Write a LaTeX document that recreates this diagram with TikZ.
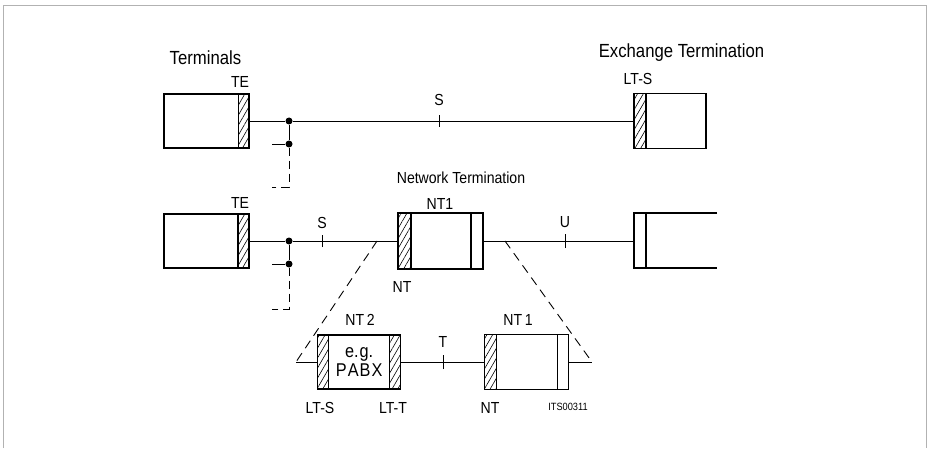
\documentclass[tikz,border=0pt]{standalone}
\usepackage{fontspec}
\setmainfont[FakeStretch=0.88]{Liberation Sans}
\usepackage{tikz}
\usetikzlibrary{patterns.meta,positioning,calc}
\tikzset{
  unit/.style={rectangle, draw=black, line width=1.3pt, inner sep=0pt,
               minimum height=54pt},
  hatch/.style={rectangle, draw=black, line width=1.3pt, inner sep=0pt,
                pattern={Lines[angle=60,distance=5pt,line width=0.6pt]}},
  plain/.style={rectangle, draw=black, line width=1.3pt, inner sep=0pt, fill=white},
  dot/.style={circle, fill=black, inner sep=0pt, minimum size=7pt},
  wire/.style={line width=0.9pt},
  zoomline/.style={line width=0.9pt, dash pattern=on 9pt off 6pt},
  busend/.style={line width=0.9pt, dash pattern=on 8pt off 5pt},
  lbl/.style={font=\fontsize{16}{18}\selectfont, inner sep=1pt},
  biglbl/.style={font=\fontsize{19}{21}\selectfont, inner sep=1pt}
}
\begin{document}
\begin{tikzpicture}[x=1pt,y=1pt]
  \useasboundingbox (0,0) rectangle (929,448);
  % --- scan frame ---
  \draw[gray!60, line width=0.8pt] (3,0) -- (3,443) -- (926,443) -- (926,0);

  % --- first row: TE -- S -- exchange ---
  \node[unit, minimum width=85pt] (te1) at (206.5,327) {};
  \node[hatch, minimum width=11pt, minimum height=54pt, anchor=east] (te1h) at (te1.east) {};
  \node[unit, minimum width=72pt, minimum height=55pt] (lts) at (670,327) {};
  \node[hatch, minimum width=12pt, minimum height=55pt, anchor=west] (ltsh) at (lts.west) {};
  \node[dot] (j1) at (289,327) {};
  \node[dot] (j2) at (289,304) {};
  \coordinate (b1) at (272,304);
  \coordinate (d1) at (289,261);
  \coordinate (e1) at (272,261);
  \coordinate (s1) at (439,327);
  \draw[wire] (te1.east) -- (j1) -- (lts.west);
  \draw[wire] (j1) -- (j2) -- (b1);
  \draw[busend] (j2) -- (d1) -- (e1);
  \draw[wire] ($(s1)+(0,-6)$) -- ($(s1)+(0,6)$);

  \node[biglbl] (term) at (205.5,390) {Terminals};
  \node[lbl] (te1l) at (240,366) {TE};
  \node[lbl] (s1l) at (439,348) {S};
  \node[biglbl] (exch) at (681.5,395) {Exchange Termination};
  \node[lbl] (ltsl) at (638,369) {LT-S};

  % --- second row: TE -- S -- NT1 -- U -- exchange ---
  \node[unit, minimum width=85pt] (te2) at (206.5,207) {};
  \node[hatch, minimum width=11pt, minimum height=54pt, anchor=east] (te2h) at (te2.east) {};
  \node[unit, minimum width=85pt, minimum height=56pt] (nt1) at (440.5,207) {};
  \node[hatch, minimum width=13pt, minimum height=56pt, anchor=west] (nt1h) at (nt1.west) {};
  \node[plain, minimum width=12pt, minimum height=56pt, anchor=east] (nt1r) at (nt1.east) {};
  \node[dot] (j3) at (289,207) {};
  \node[dot] (j4) at (289,184) {};
  \coordinate (b2) at (272,184);
  \coordinate (d2) at (289,139);
  \coordinate (e2) at (272,139);
  \coordinate (s2) at (322,207);
  \coordinate (u1) at (565,207);
  \coordinate (ue) at (634,207);
  \draw[wire] (te2.east) -- (j3) -- (nt1.west);
  \draw[wire] (j3) -- (j4) -- (b2);
  \draw[busend] (j4) -- (d2) -- (e2);
  \draw[wire] (nt1.east) -- (ue);
  \draw[wire] ($(s2)+(0,-6)$) -- ($(s2)+(0,6)$);
  \draw[wire] ($(u1)+(0,-7)$) -- ($(u1)+(0,7)$);
  % exchange side, open to the right
  \draw[line width=1.3pt] (717,235) -- (634,235) -- (634,180) -- (717,180);
  \draw[line width=1.3pt] (646,235) -- (646,180);

  \node[lbl] (te2l) at (240,245) {TE};
  \node[lbl] (s2l) at (322,225) {S};
  \node[lbl] (netl) at (461,270) {Network Termination};
  \node[lbl] (nt1l) at (440,244) {NT1};
  \node[lbl] (ntl) at (402,161) {NT};
  \node[lbl] (ul) at (565,226) {U};

  % --- detail: NT2 -- T -- NT1 ---
  \node[unit, minimum width=83pt] (nt2) at (359.2,86) {};
  \node[hatch, minimum width=11pt, minimum height=54pt, anchor=west] (nt2a) at (nt2.west) {};
  \node[hatch, minimum width=11pt, minimum height=54pt, anchor=east] (nt2b) at (nt2.east) {};
  \node[unit, minimum width=84pt, minimum height=55pt] (nt1b) at (526.2,86) {};
  \node[hatch, minimum width=12pt, minimum height=55pt, anchor=west] (nt1bh) at (nt1b.west) {};
  \node[plain, minimum width=11pt, minimum height=55pt, anchor=east] (nt1br) at (nt1b.east) {};
  \coordinate (zl) at (377,207);
  \coordinate (zr) at (505,207);
  \coordinate (zl2) at (296,86);
  \coordinate (zr2) at (592,86);
  \coordinate (t1) at (443,86);
  \draw[wire] (zl2) -- (nt2.west);
  \draw[wire] (nt2.east) -- (nt1b.west);
  \draw[wire] (nt1b.east) -- (zr2);
  \draw[wire] ($(t1)+(0,-7)$) -- ($(t1)+(0,7)$);
  \draw[zoomline] (zl) -- (zl2);
  \draw[zoomline] (zr) -- (zr2);

  \node[lbl] (nt2l) at (360,128) {NT\,2};
  \node[font=\fontsize{18.5}{20}\selectfont, align=center, inner sep=0pt] (pabx) at (359.2,86)
    {e.\kern1pt g.\\[-1pt]P\kern1pt A\kern1pt B\kern1pt X};
  \node[lbl] (tl) at (443,106) {T};
  \node[lbl] (nt1bl) at (518,128) {NT\,1};
  \node[lbl] (ltsl2) at (320,40) {LT-S};
  \node[lbl] (lttl) at (393,40) {LT-T};
  \node[lbl] (ntl2) at (490,40) {NT};
  \node[font=\fontsize{10.5}{12}\selectfont] (code) at (568,41) {ITS00311};
\end{tikzpicture}
\end{document}
